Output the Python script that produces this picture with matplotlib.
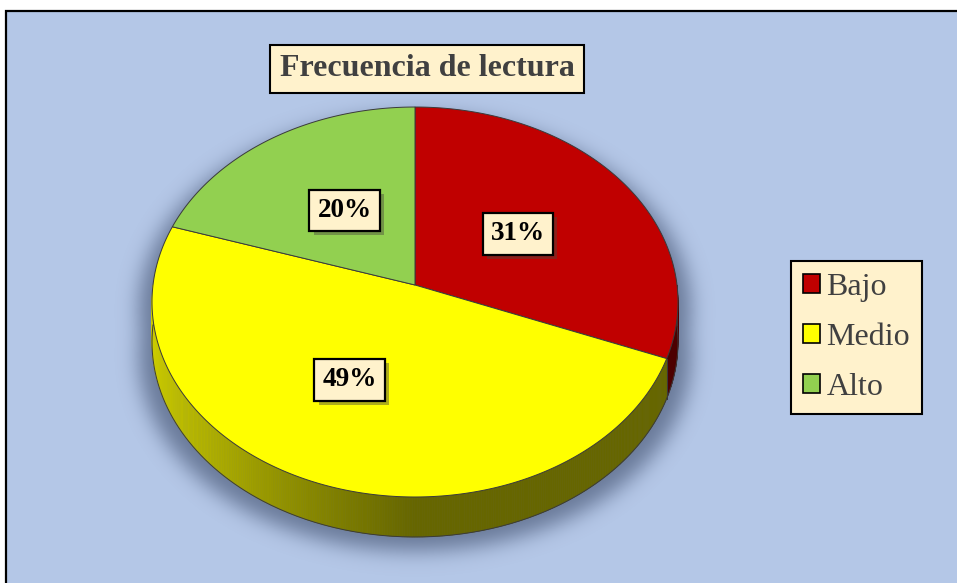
import numpy as np
import matplotlib
matplotlib.use('Agg')
import matplotlib.pyplot as plt
from matplotlib.patches import Polygon, Rectangle, Patch
from matplotlib.path import Path
import matplotlib.patheffects as pe

categorias = ['Bajo', 'Medio', 'Alto']
porcentajes = [31, 49, 20]
colores = ['#C00000', '#FFFF00', '#92D050']
titulo = 'Frecuencia de lectura'

W, H = 957, 583
fig = plt.figure(figsize=(W / 100, H / 100), dpi=100)
fig.patch.set_facecolor('white')
ax = fig.add_axes([0, 0, 1, 1])
ax.set_xlim(0, W)
ax.set_ylim(H, 0)
ax.axis('off')

# chart area (only the left and top edges are inside the picture)
ax.add_patch(Rectangle((6, 11), W + 40, H + 40, fc='#B4C7E7', ec='none', zorder=0))
ax.plot([6, 6, W + 10], [H + 10, 11, 11], color='black', lw=1.6, zorder=0.5,
        solid_joinstyle='miter')

# 3D pie geometry (pixels)
CX, CY, RX, SY, K, DEPTH = 415, 285, 262, 193.5, 0.0872, 40
serif = 'Liberation Serif'


def proj(theta, r=1.0, drop=0.0):
    t = np.radians(theta)
    u = r * np.sin(t)
    v = -r * np.cos(t)
    w = 1 - K * v
    return CX + RX * u / w, CY + SY * v / w + drop


def shade(rgb, f):
    return tuple(c * f for c in rgb)


# soft shadow under the pie
th = np.linspace(0, 360, 361)
sx, sy = proj(th)
sx = CX + (sx - CX) * 1.05
gy, gx = np.mgrid[0:H, 0:W]
pts = np.column_stack([gx.ravel() + 0.5, gy.ravel() + 0.5])
mask = np.zeros(H * W)
for dy in (8, DEPTH + 14):
    mask = np.maximum(mask, Path(np.column_stack([sx, sy + dy])).contains_points(pts))
band = Path(np.vstack([np.column_stack([sx[90:271], sy[90:271] + DEPTH + 14]),
                       np.column_stack([sx[270:89:-1], sy[270:89:-1] + 8])]))
mask = np.maximum(mask, band.contains_points(pts)).reshape(H, W).astype(float)


def gauss_mat(n, s):
    i = np.arange(n)
    m = np.exp(-0.5 * ((i[:, None] - i[None, :]) / s) ** 2)
    return m / m.sum(axis=1, keepdims=True)


blur = gauss_mat(H, 10) @ mask @ gauss_mat(W, 10).T
img = np.zeros((H, W, 4))
img[..., 0], img[..., 1], img[..., 2] = 0.22, 0.28, 0.40
img[..., 3] = blur * 0.6
ax.imshow(img, extent=(0, W, H, 0), zorder=1, interpolation='bilinear')
ax.set_xlim(0, W)
ax.set_ylim(H, 0)
ax.set_aspect('auto')

# slices
angs = np.concatenate([[0], np.cumsum(porcentajes) / sum(porcentajes) * 360])
edge = '#3a3a3a'
for i, col in enumerate(colores):
    a0, a1 = angs[i], angs[i + 1]
    rgb = matplotlib.colors.to_rgb(col)
    # visible side (front half)
    s0, s1 = max(a0, 90), min(a1, 270)
    if s1 > s0:
        steps = np.linspace(s0, s1, int((s1 - s0) * 2) + 2)
        for t0, t1 in zip(steps[:-1], steps[1:]):
            x0, y0 = proj(t0)
            x1, y1 = proj(t1)
            u = np.sin(np.radians((t0 + t1) / 2))
            f = 0.40 + 0.40 * max(0.0, -u) ** 1.1
            c = shade(rgb, f)
            ax.add_patch(Polygon([(x0, y0), (x1, y1), (x1, y1 + DEPTH), (x0, y0 + DEPTH)],
                                 closed=True, fc=c, ec=c, lw=0.4, zorder=3))
        bx, by = proj(steps)
        ax.plot(bx, by + DEPTH, color=edge, lw=0.7, zorder=4)
        for t in (s0, s1):
            px, py = proj(t)
            ax.plot([px, px], [py, py + DEPTH], color=edge, lw=0.6, zorder=4)
    # top face
    arc = np.linspace(a0, a1, max(int(a1 - a0) * 2, 4))
    ax_, ay_ = proj(arc)
    poly = np.vstack([[CX, CY], np.column_stack([ax_, ay_])])
    ax.add_patch(Polygon(poly, closed=True, fc=col, ec=edge, lw=0.7, zorder=5))

# data labels
nudges = [(-3, 2), (-19, 0), (4, 1)]
for i, p in enumerate(porcentajes):
    mid = (angs[i] + angs[i + 1]) / 2
    lx, ly = proj(mid, 0.5)
    t = ax.text(lx + nudges[i][0], ly + nudges[i][1], f'{p}%', ha='center', va='center',
                fontsize=19.5, fontweight='bold', family=serif, color='black', zorder=8,
                bbox=dict(boxstyle='square,pad=0.3', fc='#FFF2CC', ec='black', lw=1.6))
    t.get_bbox_patch().set_path_effects([pe.SimplePatchShadow(offset=(3, -3), alpha=0.45),
                                         pe.Normal()])

# title
ax.text(427, 69, titulo, ha='center', va='center', fontsize=23, fontweight='bold',
        family=serif, color='#404040', zorder=8,
        bbox=dict(boxstyle='square,pad=0.3', fc='#FFF2CC', ec='black', lw=1.5))

# legend
handles = [Patch(fc=c, ec='black', lw=1.2) for c in colores]
leg = ax.legend(handles, categorias, loc='center left', bbox_to_anchor=(791 / W, 1 - 337.5 / H),
                frameon=True, fancybox=False, edgecolor='black', facecolor='#FFF2CC',
                framealpha=1, handlelength=0.55, handleheight=0.55, handletextpad=0.2,
                labelspacing=0.66, borderpad=0.36, borderaxespad=0,
                prop={'family': serif, 'size': 23})
leg.get_frame().set_linewidth(1.5)
for txt in leg.get_texts():
    txt.set_color('#404040')

fig.savefig('out.png', dpi=100, facecolor=fig.get_facecolor())
